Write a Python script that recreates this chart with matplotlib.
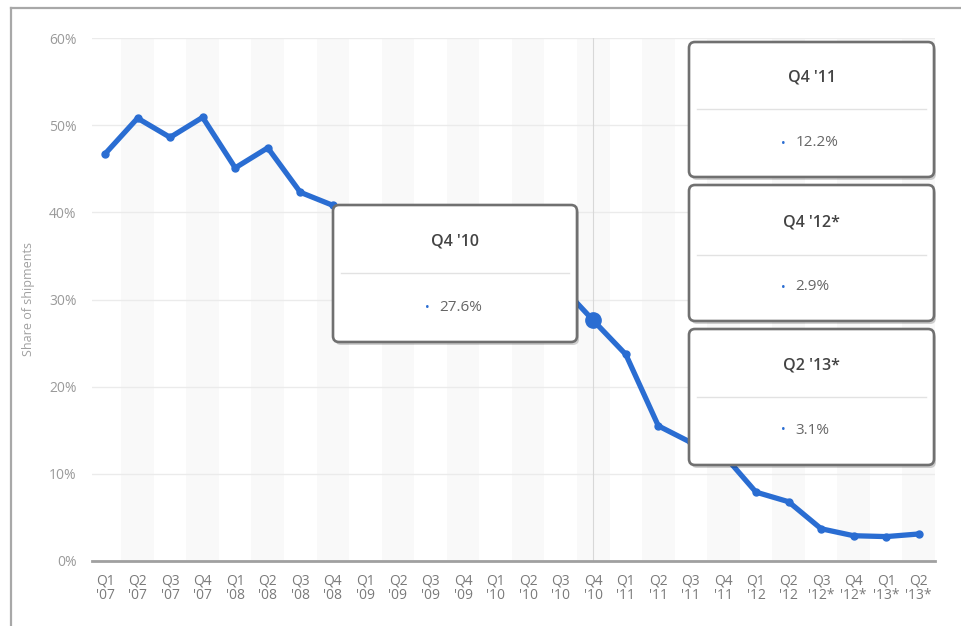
import matplotlib
matplotlib.use("Agg")
import matplotlib.pyplot as plt
from matplotlib.patches import FancyBboxPatch
from matplotlib.lines import Line2D
from matplotlib.transforms import IdentityTransform
import numpy as np

plt.rcParams['font.family'] = ['Open Sans', 'DejaVu Sans']

quarters = ["Q1", "Q2", "Q3", "Q4"] * 6 + ["Q1", "Q2"]
years = (["'07"] * 4 + ["'08"] * 4 + ["'09"] * 4 + ["'10"] * 4 + ["'11"] * 4
         + ["'12", "'12", "'12*", "'12*"] + ["'13*", "'13*"])
share = [46.7, 50.8, 48.6, 50.9, 45.1, 47.4, 42.3, 40.8,
         38.9, 40.2, 38.4, 37.6, 36.2, 34.3, 31.6, 27.6,
         23.7, 15.5, 13.6, 12.2, 7.9, 6.8, 3.7, 2.9, 2.8, 3.1]
highlight_idx = 15
tooltips = [("Q4 '10", "27.6%"), ("Q4 '11", "12.2%"),
            ("Q4 '12*", "2.9%"), ("Q2 '13*", "3.1%")]

W, H = 961, 626
fig = plt.figure(figsize=(W / 100, H / 100), dpi=100)
ax = fig.add_axes([92 / W, 1 - 561 / H, (935 - 92) / W, (561 - 38) / H])

x = np.arange(len(share))
blue = "#2a6dd2"

# alternating bands
for i in x:
    if i % 2 == 1:
        ax.axvspan(i - 0.5, i + 0.5, color="#f9f9f9", zorder=0, lw=0)

ax.set_ylim(0, 60)
ax.set_xlim(-0.4, len(share) - 0.5)
ax.set_yticks(np.arange(0, 61, 10))
ax.set_yticklabels([f"{v}%" for v in range(0, 61, 10)])
ax.yaxis.grid(True, color="#ebebeb", lw=1, zorder=1)
ax.set_axisbelow(True)
for s in ["top", "right", "left"]:
    ax.spines[s].set_visible(False)
ax.spines["bottom"].set_color("#a0a0a0")
ax.spines["bottom"].set_linewidth(2)
ax.tick_params(axis="y", length=0, pad=11, labelsize=10, labelcolor="#9a9a9a")
ax.set_xticks(x)
ax.set_xticklabels([f"{q}\n{y}" for q, y in zip(quarters, years)], linespacing=0.95)
ax.tick_params(axis="x", length=0, pad=9, labelsize=10, labelcolor="#7a7a7a")
ax.set_ylabel("Share of shipments", fontsize=9, color="#a0a0a0", labelpad=10)

# crosshair
ax.axvline(highlight_idx, color="#d8d8d8", lw=0.8, zorder=1)

ax.plot(x, share, color=blue, lw=3.8, marker="o", ms=5, zorder=3,
        solid_joinstyle="round", solid_capstyle="round")
ax.plot([x[highlight_idx]], [share[highlight_idx]], "o", color=blue, ms=11, zorder=4)

# outer frame lines
fig.add_artist(Line2D([10.5 / W, 10.5 / W], [0, 1 - 8 / H], color="#a8a8a8", lw=1.6))
fig.add_artist(Line2D([10.5 / W, 1], [1 - 8 / H, 1 - 8 / H], color="#a8a8a8", lw=1.6))

ident = IdentityTransform()


def tooltip(x0, y0, x1, y1, title, value, ty, sy, vy):
    w, h = x1 - x0, y1 - y0
    sh = FancyBboxPatch((x0 + 2, H - y1 - 3), w, h,
                        boxstyle="round,pad=0,rounding_size=6",
                        transform=ident, fc="#000000", ec="none", alpha=0.18, zorder=9)
    fig.add_artist(sh)
    b = FancyBboxPatch((x0, H - y1), w, h, boxstyle="round,pad=0,rounding_size=6",
                       transform=ident, fc="white", ec="#707070", lw=1.9, zorder=10)
    fig.add_artist(b)
    cx = (x0 + x1) / 2
    fig.text(cx / W, 1 - ty / H, title, ha="center", va="center", fontsize=11.5,
             color="#444444", fontweight="semibold", zorder=11)
    fig.add_artist(Line2D([(x0 + 8) / W, (x1 - 8) / W], [1 - sy / H, 1 - sy / H],
                          color="#e2e2e2", lw=1, zorder=11))
    fig.text((cx - 28) / W, 1 - vy / H, "•", ha="center", va="center", fontsize=9,
             color=blue, zorder=11)
    fig.text((cx - 16) / W, 1 - vy / H, value, ha="left", va="center", fontsize=11,
             color="#666666", zorder=11)


tooltip(333, 205, 577, 342, tooltips[0][0], tooltips[0][1], 242, 273, 308)
tooltip(689, 42, 934, 177, tooltips[1][0], tooltips[1][1], 77, 109, 143)
tooltip(689, 185, 934, 321, tooltips[2][0], tooltips[2][1], 222, 255, 287)
tooltip(689, 329, 934, 465, tooltips[3][0], tooltips[3][1], 365, 397, 430)

fig.savefig("out.png", dpi=100)
